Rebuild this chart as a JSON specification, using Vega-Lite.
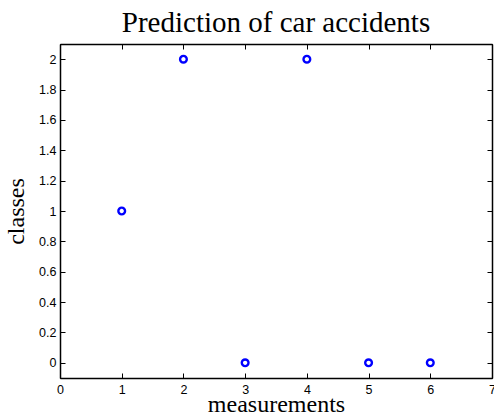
{
  "$schema": "https://vega.github.io/schema/vega-lite/v6.json",
  "width": 432,
  "height": 334,
  "autosize": {"type": "none"},
  "padding": {"left": 60, "top": 44, "right": 2, "bottom": 40},
  "background": "white",
  "title": {
    "text": "Prediction of car accidents",
    "font": "Liberation Serif",
    "fontSize": 29,
    "fontWeight": "normal",
    "color": "black",
    "anchor": "middle",
    "offset": 6
  },
  "config": {
    "view": {"stroke": "black", "strokeWidth": 1},
    "axis": {
      "domainColor": "black",
      "domainWidth": 1.5,
      "tickColor": "black",
      "tickSize": -5,
      "grid": false,
      "labelFont": "Liberation Sans",
      "labelFontSize": 12.5,
      "labelColor": "black",
      "format": "~g",
      "titleFont": "Liberation Serif",
      "titleFontSize": 24,
      "titleFontWeight": "normal",
      "titleColor": "black"
    }
  },
  "data": {
    "values": [
      {"measurement": 1, "class": 1},
      {"measurement": 2, "class": 2},
      {"measurement": 3, "class": 0},
      {"measurement": 4, "class": 2},
      {"measurement": 5, "class": 0},
      {"measurement": 6, "class": 0}
    ]
  },
  "layer": [
    {
      "mark": {"type": "point", "shape": "circle", "filled": false, "color": "#0000ff", "opacity": 1, "strokeWidth": 2.4, "size": 45},
      "encoding": {
        "x": {
          "field": "measurement", "type": "quantitative",
          "scale": {"domain": [0, 7], "nice": false, "zero": false},
          "axis": {"title": "measurements", "values": [0, 1, 2, 3, 4, 5, 6, 7], "labelPadding": 10, "titlePadding": -3, "labelFlush": false}
        },
        "y": {
          "field": "class", "type": "quantitative",
          "scale": {"domain": [-0.1, 2.1], "nice": false, "zero": false},
          "axis": {"title": "classes", "values": [0, 0.2, 0.4, 0.6, 0.8, 1, 1.2, 1.4, 1.6, 1.8, 2], "labelPadding": 9, "titlePadding": 10}
        }
      }
    },
    {
      "mark": {"type": "point", "opacity": 0},
      "encoding": {
        "x": {
          "field": "measurement", "type": "quantitative",
          "axis": {"orient": "top", "title": null, "labels": false, "values": [0, 1, 2, 3, 4, 5, 6, 7]}
        },
        "y": {
          "field": "class", "type": "quantitative",
          "axis": {"orient": "right", "title": null, "labels": false, "values": [0, 0.2, 0.4, 0.6, 0.8, 1, 1.2, 1.4, 1.6, 1.8, 2]}
        }
      }
    }
  ],
  "resolve": {"axis": {"x": "independent", "y": "independent"}}
}
